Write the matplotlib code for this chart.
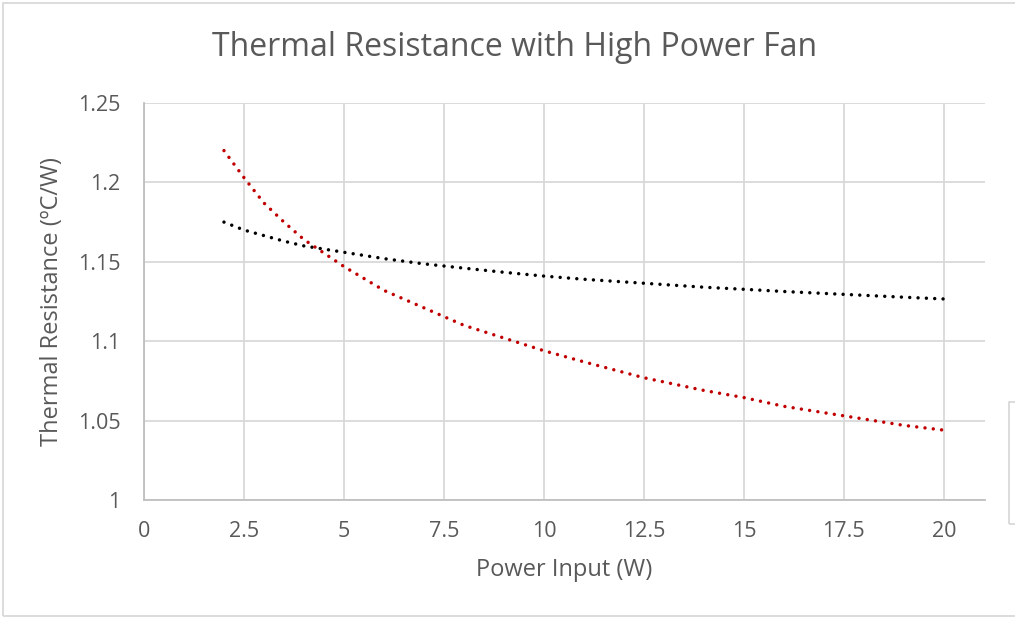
import matplotlib
matplotlib.use("Agg")
import matplotlib.pyplot as plt
from matplotlib.patches import Rectangle

# Data
power_w = [2, 2.5, 3, 3.5, 4, 5, 6, 7, 8, 9, 10, 11, 12.5, 14, 15, 16, 17.5, 19, 20]
resist_black = [1.175, 1.170, 1.1665, 1.163, 1.160, 1.156, 1.152, 1.1487, 1.146, 1.1434,
                1.141, 1.139, 1.1365, 1.134, 1.1327, 1.1313, 1.1295, 1.1277, 1.1266]
resist_red = [1.220, 1.203, 1.187, 1.175, 1.164, 1.147, 1.132, 1.121, 1.110, 1.102,
              1.094, 1.087, 1.077, 1.069, 1.0645, 1.059, 1.053, 1.047, 1.044]
x_ticks = [0, 2.5, 5, 7.5, 10, 12.5, 15, 17.5, 20]
x_tick_labels = ["0", "2.5", "5", "7.5", "10", "12.5", "15", "17.5", "20"]
y_ticks = [1, 1.05, 1.1, 1.15, 1.2, 1.25]
y_tick_labels = ["1", "1.05", "1.1", "1.15", "1.2", "1.25"]

title = "Thermal Resistance with High Power Fan"
xlabel = "Power Input (W)"
ylabel = "Thermal Resistance (\u00baC/W)"

plt.rcParams['font.family'] = ['Open Sans', 'DejaVu Sans']

W, H = 1015, 618
fig = plt.figure(figsize=(W / 100, H / 100), dpi=100)
ax = fig.add_axes([144 / W, 1 - 500 / H, (985 - 144) / W, (500 - 103) / H])

grid_c = "#D9D9D9"
text_c = "#595959"

dot_style = (0, (0.001, 2.4))
ax.plot(power_w, resist_black, color="black", lw=2.5, linestyle=dot_style,
        dash_capstyle="round", zorder=3)
ax.plot(power_w, resist_red, color="#C00000", lw=2.5, linestyle=dot_style,
        dash_capstyle="round", zorder=3)

ax.set_xlim(0, 21.03)
ax.set_ylim(1, 1.25)
ax.set_xticks(x_ticks)
ax.set_xticklabels(x_tick_labels)
ax.set_yticks(y_ticks)
ax.set_yticklabels(y_tick_labels)
ax.grid(True, color=grid_c, lw=1.3)
ax.set_axisbelow(True)
for s in ["top", "right"]:
    ax.spines[s].set_visible(False)
for s in ["left", "bottom"]:
    ax.spines[s].set_color("#BFBFBF")
    ax.spines[s].set_linewidth(1.3)
ax.tick_params(length=0, labelsize=15.5, labelcolor=text_c)
ax.tick_params(axis="x", pad=15)
ax.tick_params(axis="y", pad=17)

ax.set_xlabel(xlabel, fontsize=17, color=text_c, labelpad=12)
ax.set_ylabel(ylabel, fontsize=17, color=text_c, labelpad=10)

fig.text(515 / W, 1 - 47 / H, title, fontsize=23, color=text_c,
         ha="center", va="center")

# outer chart border (cut off on right) and partial legend box
fig.patches.append(Rectangle((3 / W, 1 - 616 / H), 1.2, (616 - 3) / H,
                             transform=fig.transFigure, fill=False,
                             edgecolor=grid_c, lw=1.3))
fig.patches.append(Rectangle((1009 / W, 1 - 524 / H), 0.2, (524 - 402) / H,
                             transform=fig.transFigure, fill=False,
                             edgecolor=grid_c, lw=1.3))

fig.savefig("out.png", dpi=100)
